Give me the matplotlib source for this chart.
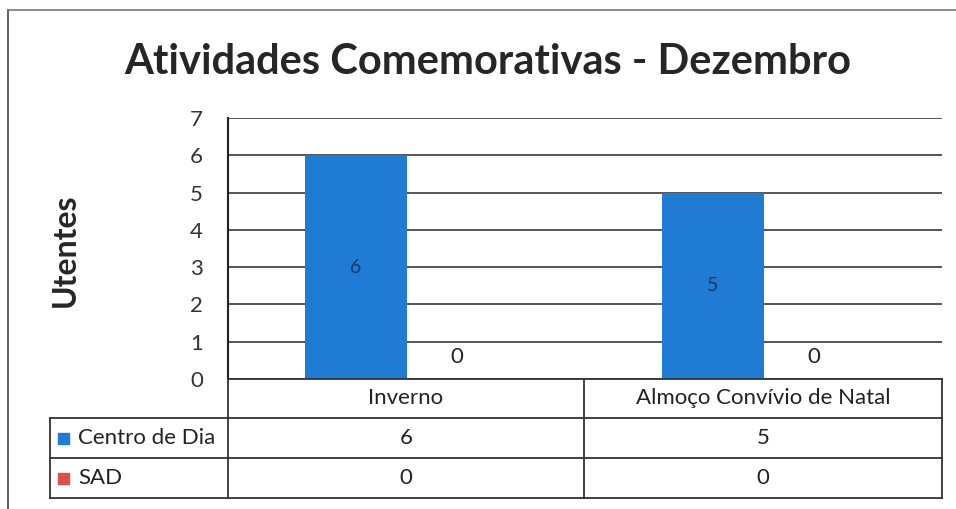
import matplotlib.pyplot as plt
import numpy as np

plt.rcParams["font.family"] = ["Lato", "DejaVu Sans"]

categories = ["Inverno", "Almoço Convívio de Natal"]
series_names = ["Centro de Dia", "SAD"]
centro_dia = [6, 5]
sad = [0, 0]
y_ticks = [0, 1, 2, 3, 4, 5, 6, 7]

W, H = 956, 509
blue = "#1f7bd4"
red = "#d9504c"
grid_col = "#555555"

def fx(x):
    return x / W

def fy(y):
    return 1 - y / H

fig = plt.figure(figsize=(W / 100, H / 100), dpi=100)

# outer frame
fig.add_artist(plt.Line2D([fx(8), fx(8)], [fy(10), fy(509)], color="#444444", lw=1.2))
fig.add_artist(plt.Line2D([fx(8), fx(956)], [fy(10), fy(10)], color="#777777", lw=1.2))

fig.text(fx(488), fy(62), "Atividades Comemorativas - Dezembro",
         ha="center", va="center", fontsize=30, fontweight="bold", color="#262626")

# plot area
left, right, top, bottom = 228, 942, 118, 379
ax = fig.add_axes([fx(left), fy(bottom), fx(right) - fx(left), fy(top) - fy(bottom)])
x = np.arange(len(categories))
bw = 0.284
b1 = ax.bar(x - bw / 2, centro_dia, bw, color=blue, zorder=3)
b2 = ax.bar(x + bw / 2, sad, bw, color=red, zorder=3)
for rect, v in zip(b1, centro_dia):
    ax.text(rect.get_x() + rect.get_width() / 2, v / 2, str(v),
            ha="center", va="center", fontsize=14, color="#1a3a66", zorder=4)
for rect, v in zip(b2, sad):
    ax.text(rect.get_x() + rect.get_width() / 2, v + 0.32, str(v),
            ha="center", va="bottom", fontsize=16, color="#222222", zorder=4)

ax.set_xlim(-0.5, len(categories) - 0.5)
ax.set_ylim(0, 7)
ax.set_yticks(y_ticks)
ax.set_yticklabels([str(t) for t in y_ticks], fontsize=16, color="#333333")
ax.set_xticks([])
ax.tick_params(axis="y", length=0, pad=18)
ax.yaxis.grid(True, color=grid_col, lw=1.4)
ax.set_axisbelow(True)
for s in ["top", "right", "bottom"]:
    ax.spines[s].set_visible(False)
ax.spines["left"].set_color("#222222")
ax.spines["left"].set_linewidth(1.5)

fig.text(fx(65), fy(250), "Utentes", rotation=90, ha="center", va="center",
         fontsize=23, fontweight="bold", color="#262626")

# data table
tab_left = 50
row_y = [379, 418, 458, 498]
col_x = [tab_left, left, 584, right]
lc = "#333333"

def hline(y, x0, x1):
    fig.add_artist(plt.Line2D([fx(x0), fx(x1)], [fy(y), fy(y)], color=lc, lw=1.3))

def vline(xp, y0, y1):
    fig.add_artist(plt.Line2D([fx(xp), fx(xp)], [fy(y0), fy(y1)], color=lc, lw=1.3))

hline(row_y[0], left, right)
for yy in row_y[1:]:
    hline(yy, tab_left, right)
vline(tab_left, row_y[1], row_y[3])
vline(left, row_y[0], row_y[3])
vline(584, row_y[0], row_y[3])
vline(right, row_y[0], row_y[3])

for i, cat in enumerate(categories):
    cx = (col_x[i + 1] + col_x[i + 2]) / 2
    fig.text(fx(cx), fy((row_y[0] + row_y[1]) / 2), cat, ha="center", va="center",
             fontsize=16, color="#222222")
    fig.text(fx(cx), fy((row_y[1] + row_y[2]) / 2), str(centro_dia[i]), ha="center",
             va="center", fontsize=16, color="#222222")
    fig.text(fx(cx), fy((row_y[2] + row_y[3]) / 2), str(sad[i]), ha="center",
             va="center", fontsize=16, color="#222222")

for j, (name, col) in enumerate(zip(series_names, [blue, red])):
    cy = (row_y[j + 1] + row_y[j + 2]) / 2
    fig.patches.append(plt.Rectangle((fx(58), fy(cy + 6)), fx(11), 11 / H,
                                     transform=fig.transFigure, color=col))
    fig.text(fx(78), fy(cy), name, ha="left", va="center", fontsize=16, color="#222222")

fig.savefig("out.png", dpi=100)
